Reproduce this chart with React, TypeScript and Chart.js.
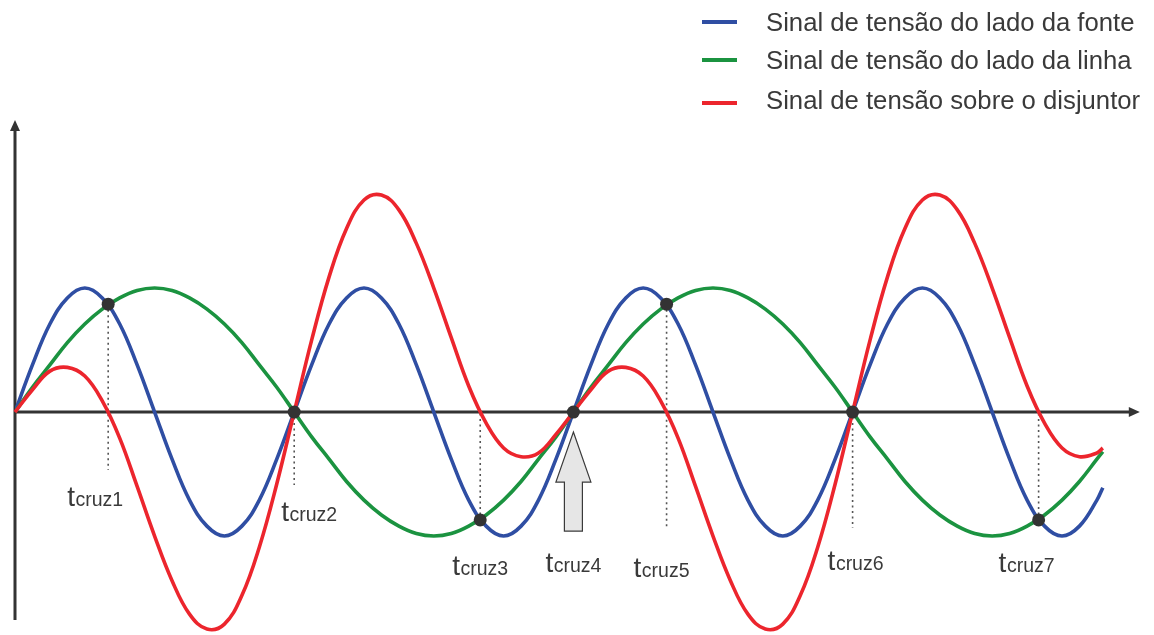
import React, { useEffect, useRef } from "react";
import { Chart, registerables } from "chart.js";

Chart.register(...registerables);

// ---- data ----
const timeValues = [
  0, 0.5, 1, 1.5, 2, 2.5, 3, 3.5, 4, 4.5, 5, 5.5, 6, 6.5, 7, 7.5,
  8, 8.5, 9, 9.5, 10, 10.5, 11, 11.5, 12, 12.5, 13, 13.5, 14, 14.5, 15, 15.5,
  16, 16.5, 17, 17.5, 18, 18.5, 19, 19.5, 20, 20.5, 21, 21.5, 22, 22.5, 23, 23.5,
  24, 24.5, 25, 25.5, 26, 26.5, 27, 27.5, 28, 28.5, 29, 29.5, 30, 30.5, 31, 31.17,
];

const sourceValues = [
  0, 0.38, 0.71, 0.92, 1, 0.92, 0.71, 0.38, 0, -0.38, -0.71, -0.92, -1, -0.92, -0.71, -0.38,
  0, 0.38, 0.71, 0.92, 1, 0.92, 0.71, 0.38, 0, -0.38, -0.71, -0.92, -1, -0.92, -0.71, -0.38,
  0, 0.38, 0.71, 0.92, 1, 0.92, 0.71, 0.38, 0, -0.38, -0.71, -0.92, -1, -0.92, -0.71, -0.38,
  0, 0.38, 0.71, 0.92, 1, 0.92, 0.71, 0.38, 0, -0.38, -0.71, -0.92, -1, -0.92, -0.71, -0.61,
];

const lineValues = [
  0, 0.2, 0.38, 0.56, 0.71, 0.83, 0.92, 0.98, 1, 0.98, 0.92, 0.83, 0.71, 0.56, 0.38, 0.2,
  0, -0.2, -0.38, -0.56, -0.71, -0.83, -0.92, -0.98, -1, -0.98, -0.92, -0.83, -0.71, -0.56, -0.38, -0.2,
  0, 0.2, 0.38, 0.56, 0.71, 0.83, 0.92, 0.98, 1, 0.98, 0.92, 0.83, 0.71, 0.56, 0.38, 0.2,
  0, -0.2, -0.38, -0.56, -0.71, -0.83, -0.92, -0.98, -1, -0.98, -0.92, -0.83, -0.71, -0.56, -0.38, -0.32,
];

const breakerValues = [
  0, 0.18, 0.33, 0.36, 0.29, 0.09, -0.21, -0.6, -1, -1.36, -1.63, -1.75, -1.71, -1.48, -1.09, -0.58,
  0, 0.58, 1.09, 1.48, 1.71, 1.75, 1.63, 1.36, 1, 0.6, 0.21, -0.09, -0.29, -0.36, -0.33, -0.18,
  0, 0.18, 0.33, 0.36, 0.29, 0.09, -0.21, -0.6, -1, -1.36, -1.63, -1.75, -1.71, -1.48, -1.09, -0.58,
  0, 0.58, 1.09, 1.48, 1.71, 1.75, 1.63, 1.36, 1, 0.6, 0.21, -0.09, -0.29, -0.36, -0.33, -0.29,
];

const seriesLabels = [
  "Sinal de tensão do lado da fonte",
  "Sinal de tensão do lado da linha",
  "Sinal de tensão sobre o disjuntor",
];

const crossTimes = [2.67, 8, 13.33, 16, 18.67, 24, 29.33];
const crossValues = [0.87, 0, -0.87, 0, 0.87, 0, -0.87];
const crossSubscripts = ["cruz1", "cruz2", "cruz3", "cruz4", "cruz5", "cruz6", "cruz7"];

// ---- layout (pixels), not data ----
const labelDx = [-41, -13, -28, -28, -33, -25, -40];
const labelDy = [94, 109, 163, 160, 165, 158, 160]; // baseline below the time axis
const guideEndDy: (number | null)[] = [58, 73, 0, null, 115, 116, 0]; // guide end below axis
const arrowIndex = 3;

const COLORS = {
  source: "#2f4ea3",
  line: "#1b9340",
  breaker: "#ec252d",
  ink: "#333333",
  text: "#3a3a3a",
};

const FONT = "'Liberation Sans', Arial, Helvetica, sans-serif";

const diagramPlugin = {
  id: "diagram",
  beforeDatasetsDraw(chart: any) {
    const { ctx, scales } = chart;
    const xs = scales.x;
    const ys = scales.y;
    const x0 = xs.getPixelForValue(0);
    const y0 = ys.getPixelForValue(0);
    const axisTop = chart.chartArea.top;
    const axisRight = chart.chartArea.right + 8;
    const axisBottom = y0 + 208;

    ctx.save();
    ctx.strokeStyle = COLORS.ink;
    ctx.fillStyle = COLORS.ink;
    ctx.lineWidth = 3;
    ctx.lineCap = "butt";
    // x axis
    ctx.beginPath();
    ctx.moveTo(x0, y0);
    ctx.lineTo(axisRight - 8, y0);
    ctx.stroke();
    ctx.beginPath();
    ctx.moveTo(axisRight, y0);
    ctx.lineTo(axisRight - 11, y0 - 5);
    ctx.lineTo(axisRight - 11, y0 + 5);
    ctx.closePath();
    ctx.fill();
    // y axis
    ctx.beginPath();
    ctx.moveTo(x0, axisBottom);
    ctx.lineTo(x0, axisTop + 8);
    ctx.stroke();
    ctx.beginPath();
    ctx.moveTo(x0, axisTop);
    ctx.lineTo(x0 - 5, axisTop + 11);
    ctx.lineTo(x0 + 5, axisTop + 11);
    ctx.closePath();
    ctx.fill();

    // dotted guides
    ctx.strokeStyle = "#555555";
    ctx.lineWidth = 1.6;
    ctx.setLineDash([2, 3.5]);
    crossTimes.forEach((t, i) => {
      const end = guideEndDy[i];
      if (end === null) return;
      const px = xs.getPixelForValue(t);
      const py = ys.getPixelForValue(crossValues[i]);
      ctx.beginPath();
      ctx.moveTo(px, py);
      ctx.lineTo(px, y0 + end);
      ctx.stroke();
    });
    ctx.restore();
  },
  afterDraw(chart: any) {
    const { ctx, scales } = chart;
    const xs = scales.x;
    const ys = scales.y;
    const y0 = ys.getPixelForValue(0);

    ctx.save();
    // labels t_cruzN
    ctx.fillStyle = COLORS.text;
    ctx.textBaseline = "alphabetic";
    ctx.textAlign = "left";
    crossTimes.forEach((t, i) => {
      const px = xs.getPixelForValue(t) + labelDx[i];
      const py = y0 + labelDy[i];
      ctx.font = `28px ${FONT}`;
      ctx.fillText("t", px, py);
      const w = ctx.measureText("t").width;
      ctx.font = `19.5px ${FONT}`;
      ctx.fillText(crossSubscripts[i], px + w + 0.5, py);
    });

    // grey arrow pointing at the crossing
    const ax = xs.getPixelForValue(crossTimes[arrowIndex]);
    ctx.beginPath();
    ctx.moveTo(ax, y0 + 20);
    ctx.lineTo(ax + 17.5, y0 + 70);
    ctx.lineTo(ax + 9, y0 + 70);
    ctx.lineTo(ax + 9, y0 + 119);
    ctx.lineTo(ax - 9, y0 + 119);
    ctx.lineTo(ax - 9, y0 + 70);
    ctx.lineTo(ax - 17.5, y0 + 70);
    ctx.closePath();
    ctx.fillStyle = "#e6e6e6";
    ctx.fill();
    ctx.strokeStyle = "#3a3a3a";
    ctx.lineWidth = 1.2;
    ctx.stroke();

    // legend
    const lineYs = [22, 60, 103];
    const textYs = [31, 69, 109];
    const legendColors = [COLORS.source, COLORS.line, COLORS.breaker];
    ctx.font = `25.7px ${FONT}`;
    seriesLabels.forEach((label, i) => {
      ctx.strokeStyle = legendColors[i];
      ctx.lineWidth = 4;
      ctx.beginPath();
      ctx.moveTo(702, lineYs[i]);
      ctx.lineTo(737, lineYs[i]);
      ctx.stroke();
      ctx.fillStyle = COLORS.text;
      ctx.fillText(label, 766, textYs[i]);
    });
    ctx.restore();
  },
};

function toPoints(values: number[]) {
  return values.map((v, i) => ({ x: timeValues[i], y: v }));
}

export default function App() {
  const canvasRef = useRef<HTMLCanvasElement | null>(null);

  useEffect(() => {
    if (!canvasRef.current) return;
    const unit = 34.9;
    const xMax = 32;
    const chart = new Chart(canvasRef.current, {
      type: "line",
      data: {
        datasets: [
          {
            label: "crossings",
            data: crossTimes.map((t, i) => ({ x: t, y: crossValues[i] })),
            showLine: false,
            pointRadius: 6.5,
            pointBackgroundColor: COLORS.ink,
            pointBorderWidth: 0,
            borderColor: COLORS.ink,
            order: 0,
          },
          {
            label: seriesLabels[2],
            data: toPoints(breakerValues),
            borderColor: COLORS.breaker,
            borderWidth: 3.6,
            pointRadius: 0,
            tension: 0.4,
            fill: false,
            clip: false as any,
            order: 1,
          },
          {
            label: seriesLabels[1],
            data: toPoints(lineValues),
            borderColor: COLORS.line,
            borderWidth: 3.6,
            pointRadius: 0,
            tension: 0.4,
            fill: false,
            order: 2,
          },
          {
            label: seriesLabels[0],
            data: toPoints(sourceValues),
            borderColor: COLORS.source,
            borderWidth: 3.6,
            pointRadius: 0,
            tension: 0.4,
            fill: false,
            order: 3,
          },
        ],
      },
      options: {
        animation: false,
        responsive: false,
        maintainAspectRatio: false,
        layout: {
          autoPadding: false,
          padding: { left: 15, right: 1154 - 15 - xMax * unit, top: 120, bottom: 0 },
        },
        scales: {
          x: { type: "linear", min: 0, max: xMax, display: false },
          y: { type: "linear", min: -1.798, max: 2.355, display: false },
        },
        plugins: {
          legend: { display: false },
          tooltip: { enabled: false },
        },
        events: [],
      },
      plugins: [diagramPlugin],
    });
    return () => chart.destroy();
  }, []);

  return (
    <div style={{ position: "absolute", left: 0, top: 0, width: 1154, height: 635, background: "#ffffff" }}>
      <canvas ref={canvasRef} width={1154} height={635} style={{ display: "block" }} />
    </div>
  );
}
